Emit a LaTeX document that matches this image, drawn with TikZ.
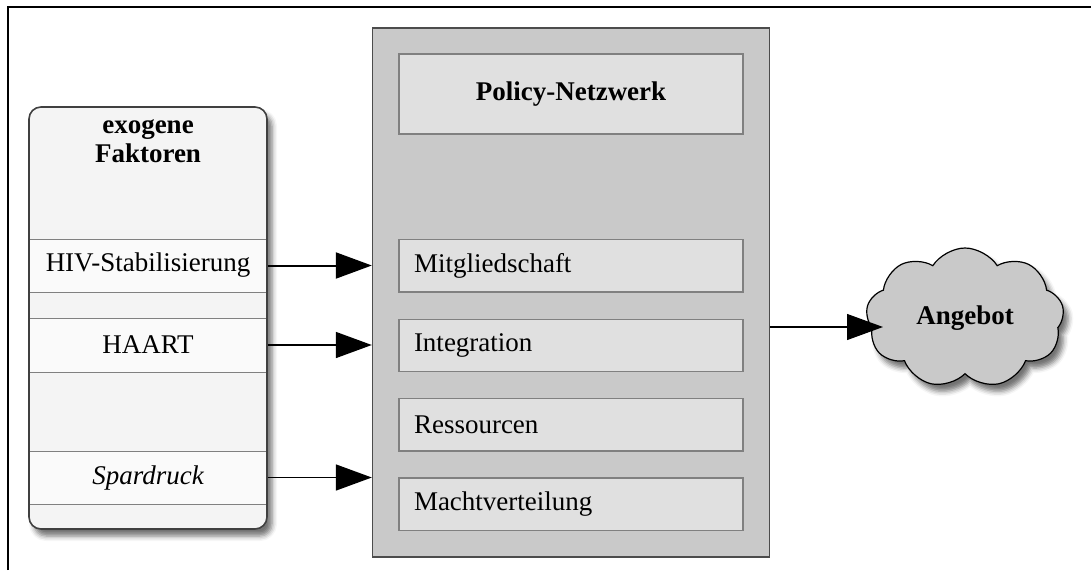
\documentclass[tikz,border=0pt]{standalone}
\usepackage{fontspec}
\setmainfont{Liberation Serif}
\usetikzlibrary{arrows.meta,shapes.symbols,shadows.blur}
\definecolor{hellgrau}{HTML}{F4F4F4}
\definecolor{zeilgrau}{HTML}{FAFAFA}
\definecolor{mittelgrau}{HTML}{C9C9C9}
\definecolor{feldgrau}{HTML}{E0E0E0}
\definecolor{randgrau}{HTML}{808080}
\tikzset{
  schrift/.style={font=\fontsize{27}{30}\selectfont},
  pfeil/.style={-{Triangle[length=36pt,width=26pt]}, line width=1.6pt},
  schatten/.style={blur shadow={shadow xshift=5pt, shadow yshift=-7pt, shadow blur radius=5pt, shadow opacity=55}},
  zeile/.style={schrift, draw=randgrau, fill=zeilgrau, line width=1pt, minimum width=238pt, inner sep=0pt},
  feld/.style={schrift, draw=randgrau, fill=feldgrau, line width=1.2pt, minimum width=344pt, text width=314pt, inner xsep=15pt, inner ysep=0pt, minimum height=52.5pt, align=left}
}
\begin{document}
\begin{tikzpicture}[x=1pt,y=-1pt]
\useasboundingbox (0,0) rectangle (1091,570);
\draw[line width=2pt] (8,570) -- (8,7) -- (1091,7);

\node (exo) [schatten, fill=hellgrau, rounded corners=12pt, minimum width=238pt, minimum height=422pt] at (148,318) {};
\node (titel) [schrift, font=\fontsize{27}{29}\selectfont\bfseries, align=center] at (148,141) {exogene\\Faktoren};
\node (hiv) [zeile, minimum height=53pt] at (148,265.5) {HIV-Stabilisierung};
\node (haart) [zeile, minimum height=54pt] at (148,345) {HAART};
\node (spar) [zeile, minimum height=53pt] at (148,477.5) {\itshape Spardruck};
\node [draw=black!75, line width=1.6pt, rounded corners=12pt, minimum width=238pt, minimum height=422pt] at (exo) {};

\node (netz) [fill=mittelgrau, draw=black!70, line width=1.4pt, minimum width=397pt, minimum height=529pt] at (571,292.5) {};
\node (policy) [feld, minimum height=80pt, align=center, font=\fontsize{27}{30}\selectfont\bfseries] at (571,94) {Policy-Netzwerk};
\node (mitglied) [feld] at (571,265.75) {Mitgliedschaft};
\node (integ) [feld] at (571,345.5) {Integration};
\node (ress) [feld] at (571,424.7) {Ressourcen};
\node (macht) [feld] at (571,504.2) {Machtverteilung};

\node (angebot) [cloud, cloud puffs=9, cloud puff arc=115, aspect=1.4, schatten, draw, line width=1.2pt, fill=mittelgrau, minimum width=198pt, minimum height=140pt, font=\fontsize{27}{30}\selectfont\bfseries] at (965,318) {Angebot};
\coordinate (ein) at (883,327);

\draw[pfeil, line width=2pt] (hiv.east) -- (hiv.east -| netz.west);
\draw[pfeil] (haart.east) -- (haart.east -| netz.west);
\draw[pfeil] (spar.east) -- (spar.east -| netz.west);
\draw[pfeil, line width=1.2pt] (netz.east |- ein) -- (ein);
\end{tikzpicture}
\end{document}
